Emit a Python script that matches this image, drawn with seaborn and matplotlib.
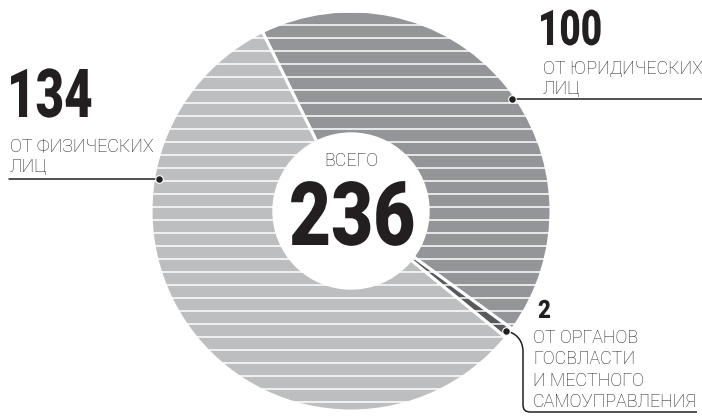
import matplotlib
matplotlib.use("Agg")
import matplotlib.pyplot as plt
from matplotlib.patches import Circle, PathPatch
from matplotlib.path import Path
from matplotlib.patheffects import AbstractPathEffect
from matplotlib.transforms import Affine2D
import seaborn as sns

# data
counts = [100, 2, 134]
labels = [
    ["ОТ ЮРИДИЧЕСКИХ", "ЛИЦ"],
    ["ОТ ОРГАНОВ", "ГОСВЛАСТИ", "И МЕСТНОГО", "САМОУПРАВЛЕНИЯ"],
    ["ОТ ФИЗИЧЕСКИХ", "ЛИЦ"],
]
total_title = "ВСЕГО"
slice_colors = ["#939598", "#58595b", "#bcbec0"]

sns.set_style("white")

W, H = 702, 419
ink = "#231f20"
txt_font = "Roboto"


class Narrow(AbstractPathEffect):
    # squeeze glyphs horizontally (no condensed font installed)
    def __init__(self, sx):
        super().__init__()
        self.sx = sx

    def draw_path(self, renderer, gc, tpath, affine, rgbFace=None):
        renderer.draw_path(gc, tpath, Affine2D().scale(self.sx, 1) + affine, rgbFace)


def big_number(x, y, value, size, sx, **kw):
    ax.text(x, y, str(value), fontsize=size, family=txt_font, fontweight="black",
            color=ink, va="baseline", ha="left",
            path_effects=[Narrow(sx)], **kw)


def caption(x, y, lines, step, size=12.9):
    for i, line in enumerate(lines):
        ax.text(x, y - step * i, line, fontsize=size, family=txt_font, fontweight="light",
                color=ink, va="baseline")


fig = plt.figure(figsize=(7.02, 4.19), dpi=100)
ax = fig.add_axes([0, 0, 1, 1])

cx, cy, r = 351, H - 211, 199

ax.pie(counts, colors=slice_colors, startangle=116.3, counterclock=False,
       center=(cx, cy), radius=r + 1,
       wedgeprops=dict(edgecolor="white", linewidth=2.2))

# horizontal white stripes over the pie
pie_clip = Circle((cx, cy), r + 1, transform=ax.transData)
stripe_y = [H - (12 + 13 * k) for k in range(32)]
stripes = ax.hlines(stripe_y, cx - r - 2, cx + r + 2, colors="white", linewidth=1.1, zorder=2)
stripes.set_clip_path(pie_clip)

# center hole
ax.add_patch(Circle((cx, cy), 78, color="white", zorder=3))
ax.text(cx, H - 166, total_title, ha="center", va="baseline", fontsize=12.9,
        family=txt_font, fontweight="light", color=ink, zorder=4)
big_number(289, H - 245, sum(counts), 63.8, 0.82, zorder=4)

# 134 - left
big_number(7, H - 117, counts[2], 48.6, 0.73)
caption(10, H - 152, labels[2], 20)
ax.plot([9, 159], [H - 179, H - 179], color=ink, lw=1.1, zorder=5)
ax.plot(159, H - 179, "o", ms=5.5, color=ink, mec="white", mew=0.8, zorder=6)

# 100 - top right
big_number(538, H - 45, counts[0], 35.4, 0.75)
caption(543, H - 74, labels[0], 19.5)
ax.plot([512, 702], [H - 99, H - 99], color=ink, lw=1.1, zorder=5)
ax.plot(512, H - 99, "o", ms=5.5, color=ink, mec="white", mew=0.8, zorder=6)

# 2 - bottom right
big_number(538, H - 318, counts[1], 18.2, 0.88)
caption(533, H - 343, labels[1], 21.3)
verts = [(506, H - 331), (516, H - 333), (523, H - 340), (523, H - 352),
         (523, H - 404), (523, H - 410), (525, H - 412), (531, H - 412), (697, H - 412)]
codes = [Path.MOVETO, Path.CURVE4, Path.CURVE4, Path.CURVE4,
         Path.LINETO, Path.CURVE4, Path.CURVE4, Path.CURVE4, Path.LINETO]
ax.add_patch(PathPatch(Path(verts, codes), fill=False, edgecolor=ink, lw=1.1, zorder=5))
ax.plot(506, H - 331, "o", ms=5.5, color=ink, mec="white", mew=0.8, zorder=6)

ax.set_xlim(0, W)
ax.set_ylim(0, H)
ax.set_aspect("equal")
ax.axis("off")

fig.savefig("out.png", dpi=100)
